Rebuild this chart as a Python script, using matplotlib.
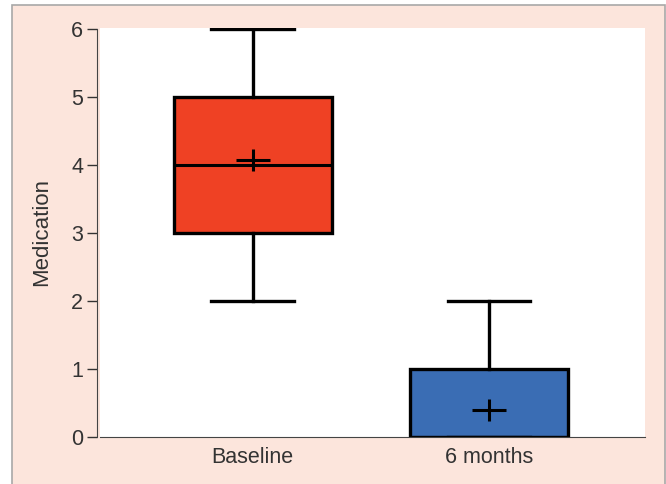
import matplotlib
matplotlib.use("Agg")
import matplotlib.pyplot as plt
from matplotlib.patches import Rectangle

plt.rcParams["font.family"] = ["Liberation Sans", "DejaVu Sans"]

groups = ["Baseline", "6 months"]
whisker_low = [2, 0]
q1 = [3, 0]
median = [4, 0]
q3 = [5, 1]
whisker_high = [6, 2]
means = [4.07, 0.4]
fill_colors = ["#ef4124", "#3a6db4"]

stats = [{"label": g, "whislo": lo, "q1": a, "med": m, "q3": b, "whishi": hi, "fliers": []}
         for g, lo, a, m, b, hi in zip(groups, whisker_low, q1, median, q3, whisker_high)]

fig = plt.figure(figsize=(6.66, 4.84), dpi=100, facecolor="white")
# pink panel with grey frame, running off the bottom edge
fig.patches.append(Rectangle((12 / 666, -0.05), 653 / 666, 1 - 5 / 484 + 0.05,
                             transform=fig.transFigure, facecolor="#fce5dc",
                             edgecolor="#a8a8a8", linewidth=1.2, zorder=-10))

ax = fig.add_axes([100 / 666, 47 / 484, 545 / 666, 409 / 484])
ax.set_facecolor("white")

bp = ax.bxp(stats, positions=[1, 2], widths=0.67, patch_artist=True, showfliers=False,
            boxprops=dict(linewidth=2.4, edgecolor="black"),
            medianprops=dict(color="black", linewidth=2.2),
            whiskerprops=dict(color="black", linewidth=2.4),
            capprops=dict(color="black", linewidth=2.4), capwidths=0.35)
for patch, c in zip(bp["boxes"], fill_colors):
    patch.set_facecolor(c)

ax.plot([1, 2], means, linestyle="none", marker="_", markersize=25, markeredgewidth=2.2,
        color="black", zorder=5)
ax.plot([1, 2], means, linestyle="none", marker="|", markersize=16, markeredgewidth=2.2,
        color="black", zorder=5)

ax.set_xlim(0.354, 2.66)
ax.set_ylim(0, 6.02)
ax.set_yticks(range(0, 7))
ax.set_xticks([1, 2])
ax.set_xticklabels(groups)
ax.tick_params(axis="x", length=0, labelsize=15.5, pad=7, colors="#333333")
ax.tick_params(axis="y", length=7, width=1, labelsize=15.5, pad=3, colors="#333333")
for side in ["top", "right"]:
    ax.spines[side].set_visible(False)
ax.spines["left"].set_position(("outward", 2))
ax.spines["left"].set_bounds(0, 6)
ax.spines["left"].set_color("#444444")
ax.spines["bottom"].set_color("#444444")
ax.set_ylabel("Medication", fontsize=16, labelpad=14, color="#333333")

fig.savefig("out.png", dpi=100)
